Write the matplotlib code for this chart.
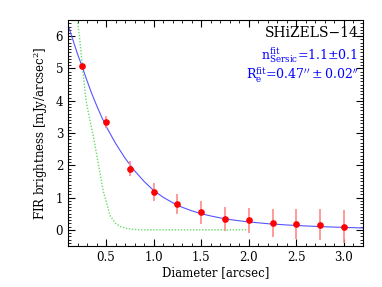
import numpy as np
import matplotlib.pyplot as plt
from matplotlib.ticker import MultipleLocator

# measured profile
diam = [0.25, 0.5, 0.75, 1.0, 1.25, 1.5, 1.75, 2.0, 2.25, 2.5, 2.75, 3.0]
flux = [5.09, 3.34, 1.90, 1.18, 0.80, 0.54, 0.34, 0.29, 0.21, 0.19, 0.15, 0.10]
err = [0.04, 0.18, 0.23, 0.28, 0.32, 0.36, 0.38, 0.39, 0.43, 0.47, 0.48, 0.50]

# sersic fit curve
fit_x = [0.08, 0.1, 0.15, 0.2, 0.25, 0.3, 0.35, 0.4, 0.45, 0.5, 0.6, 0.7, 0.8, 0.9,
         1.0, 1.1, 1.2, 1.3, 1.4, 1.5, 1.6, 1.7, 1.8, 1.9, 2.0, 2.2, 2.4, 2.6, 2.8, 3.0, 3.2]
fit_y = [6.6, 6.35, 5.9, 5.45, 5.05, 4.62, 4.22, 3.86, 3.52, 3.21, 2.68, 2.22, 1.83, 1.5,
         1.22, 1.01, 0.84, 0.70, 0.59, 0.50, 0.43, 0.37, 0.32, 0.28, 0.245, 0.19, 0.15, 0.12, 0.095, 0.075, 0.058]

# beam profile
beam_x = [0.19, 0.22, 0.25, 0.29, 0.33, 0.37, 0.40, 0.44, 0.47, 0.50, 0.54, 0.60, 0.65, 0.72, 0.80, 0.88, 1.0, 1.5, 2.0]
beam_y = [6.7, 6.0, 5.1, 4.0, 3.4, 2.85, 2.35, 1.7, 1.2, 0.9, 0.45, 0.2, 0.1, 0.04, 0.01, 0.0, 0.0, 0.0, 0.0]

plt.rcParams['font.family'] = 'DejaVu Serif'
plt.rcParams['mathtext.fontset'] = 'dejavuserif'
fig = plt.figure(figsize=(3.82, 2.87), dpi=100)
ax = fig.add_axes([0.178, 0.143, 0.772, 0.787])

ax.plot(beam_x, beam_y, color='#66dd66', linestyle=(0, (1, 1.2)), lw=1.0)
ax.plot(fit_x, fit_y, color='#5555ff', lw=0.8)
ax.errorbar(diam, flux, yerr=err, fmt='none', ecolor='#ff8a8a', elinewidth=1.2, capsize=0)
ax.plot(diam, flux, 'o', color='red', ms=3.8)

ax.set_xlim(0.1, 3.2)
ax.set_ylim(-0.5, 6.5)
ax.xaxis.set_major_locator(MultipleLocator(0.5))
ax.xaxis.set_minor_locator(MultipleLocator(0.1))
ax.yaxis.set_major_locator(MultipleLocator(1))
ax.yaxis.set_minor_locator(MultipleLocator(0.1))
ax.tick_params(which='both', direction='in', top=True, right=True, labelsize=8.5)
ax.tick_params(which='major', length=5, width=0.8)
ax.tick_params(which='minor', length=2.5, width=0.6)
ax.set_xticks([0.5, 1.0, 1.5, 2.0, 2.5, 3.0])
ax.set_xticklabels(['0.5', '1.0', '1.5', '2.0', '2.5', '3.0'])
ax.set_yticks([0, 1, 2, 3, 4, 5, 6])

ax.set_xlabel('Diameter [arcsec]', fontsize=8.5, labelpad=2)
ax.set_ylabel(r'FIR brightness [mJy/arcsec$^\mathregular{2}$]', fontsize=8.5, labelpad=4)

ax.text(0.985, 0.945, 'SHiZELS\u221214', transform=ax.transAxes, ha='right', va='center',
        fontsize=10, color='black')
ax.text(0.985, 0.845, r'$\mathregular{n_{Sersic}^{fit}}$=1.1$\pm$0.1', transform=ax.transAxes,
        ha='right', va='center', fontsize=9, color='blue')
ax.text(0.985, 0.755, r'$\mathregular{R_{e}^{fit}}$=0.47$^{\prime\prime}\pm$0.02$^{\prime\prime}$',
        transform=ax.transAxes, ha='right', va='center', fontsize=9, color='blue')

plt.savefig('out.png', dpi=100)
